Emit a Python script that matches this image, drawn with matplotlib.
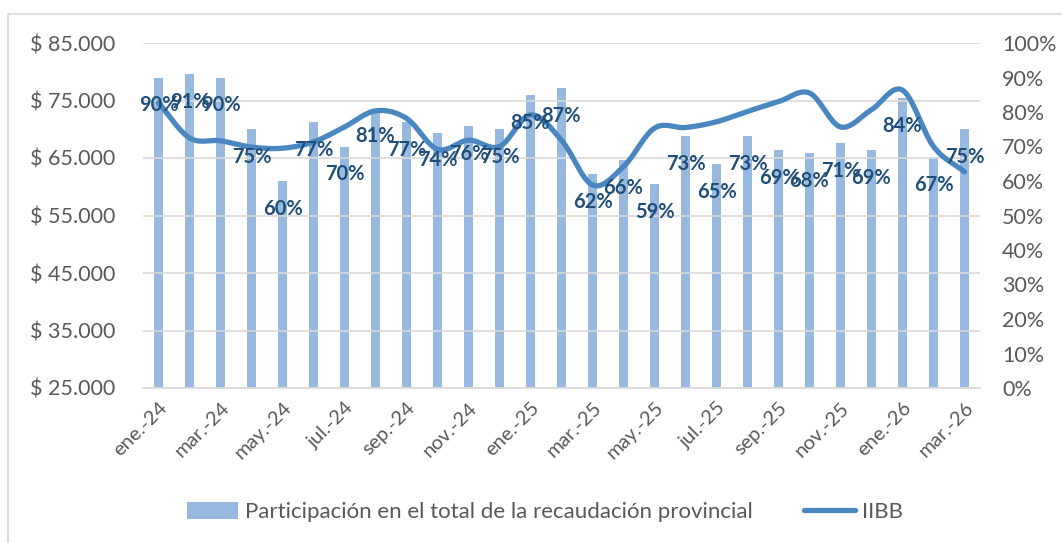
import numpy as np
import matplotlib.pyplot as plt
from matplotlib.patches import Rectangle

plt.rcParams["font.family"] = ["Lato", "DejaVu Sans"]

# data
months = ["ene.", "feb.", "mar.", "abr.", "may.", "jun.", "jul.", "ago.", "sep.", "oct.", "nov.", "dic."]
labels = [f"{m}-{y}" for y in ("24", "25") for m in months] + ["ene.-26", "feb.-26", "mar.-26"]
participacion = [90, 91, 90, 75, 60, 77, 70, 81, 77, 74, 76, 75,
                 85, 87, 62, 66, 59, 73, 65, 73, 69, 68, 71, 69,
                 84, 67, 75]
iibb = [74600, 68500, 68000, 66900, 66700, 67800, 70400, 73200, 71900, 66500, 68100, 67000,
        72500, 68100, 60300, 63500, 70200, 70300, 71300, 73100, 74800, 76300, 70400, 73400,
        76800, 67000, 62600]

bar_color = "#97B9E0"
line_color = "#4A87C0"
label_color = "#1F4E79"
text_color = "#595959"
grid_color = "#D9D9D9"


def catmull_rom(x, y, n=20):
    # smooth curve through every point, like Excel's smoothed line
    x = np.asarray(x, float)
    y = np.asarray(y, float)
    px = np.concatenate([[2 * x[0] - x[1]], x, [2 * x[-1] - x[-2]]])
    py = np.concatenate([[2 * y[0] - y[1]], y, [2 * y[-1] - y[-2]]])
    xs, ys = [], []
    t = np.linspace(0, 1, n, endpoint=False)
    for i in range(1, len(px) - 2):
        for p, out in ((px, xs), (py, ys)):
            p0, p1, p2, p3 = p[i - 1], p[i], p[i + 1], p[i + 2]
            out.append(0.5 * (2 * p1 + (-p0 + p2) * t + (2 * p0 - 5 * p1 + 4 * p2 - p3) * t ** 2
                              + (-p0 + 3 * p1 - 3 * p2 + p3) * t ** 3))
    xs.append([x[-1]])
    ys.append([y[-1]])
    return np.concatenate(xs), np.concatenate(ys)


fig = plt.figure(figsize=(10.62, 5.43), dpi=100)
fig.patches.append(Rectangle((8 / 1062, -0.05), 1.2, 1 - 14 / 543 + 0.05, transform=fig.transFigure,
                             fill=False, edgecolor=grid_color, linewidth=1.2))

ax = fig.add_axes([143 / 1062, 1 - 388 / 543, (980 - 143) / 1062, (388 - 43) / 543])
ax2 = ax.twinx()
ax.set_zorder(ax2.get_zorder() + 1)
ax.patch.set_visible(False)

x = np.arange(len(labels))

# bars on right (percentage) axis
ax2.bar(x, participacion, width=0.3, color=bar_color, zorder=2,
        label="Participación en el total de la recaudación provincial")
ax2.set_ylim(0, 100)
ax2.set_yticks(np.arange(0, 101, 10))
ax2.set_yticklabels([f"{v}%" for v in range(0, 101, 10)])

# smoothed line on left ($) axis
sx, sy = catmull_rom(x, iibb)
ax.plot(sx, sy, color=line_color, linewidth=3.8, solid_capstyle="round", label="IIBB", zorder=3)
ax.set_ylim(25000, 85000)
ax.set_yticks(np.arange(25000, 85001, 10000))
ax.set_yticklabels([f"$ {v:,.0f}".replace(",", ".") for v in range(25000, 85001, 10000)])
ax.set_xlim(-0.5, len(labels) - 0.5)

for xi, v in zip(x, participacion):
    ax.annotate(f"{v}%", xy=(xi, v), xycoords=ax2.transData, xytext=(0, -20), textcoords="offset points",
                ha="center", va="center", fontsize=14.5, fontweight="bold", color=label_color, zorder=5)

ax2.grid(False)
ax.grid(axis="y", color=grid_color, linewidth=1.2, zorder=0)
ax.set_axisbelow(True)
ax2.set_axisbelow(True)
for a in (ax, ax2):
    for s in a.spines.values():
        s.set_visible(False)
    a.tick_params(length=0, labelsize=15.5, colors=text_color)
ax.spines["bottom"].set_visible(True)
ax.spines["bottom"].set_color(grid_color)
ax.spines["bottom"].set_linewidth(1.2)
ax.tick_params(axis="y", pad=20)
ax2.tick_params(axis="y", pad=16)

ax.set_xticks(x[::2])
ax.set_xticklabels(labels[::2], rotation=45, ha="right", rotation_mode="anchor", fontsize=14.5)
ax.tick_params(axis="x", pad=8)

handles = ax2.get_legend_handles_labels()[0] + ax.get_legend_handles_labels()[0]
names = ax2.get_legend_handles_labels()[1] + ax.get_legend_handles_labels()[1]
fig.legend(handles, names, loc="center", bbox_to_anchor=(0.513, 1 - 512 / 543), ncol=2, frameon=False,
           fontsize=16, labelcolor=text_color, handlelength=2.3, handleheight=0.8, columnspacing=2.3,
           handletextpad=0.3)

fig.savefig("out.png", dpi=100)
